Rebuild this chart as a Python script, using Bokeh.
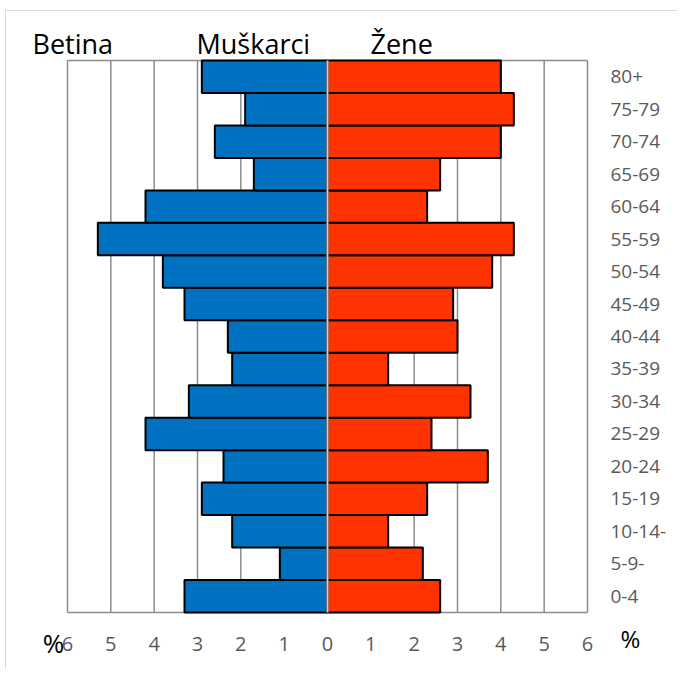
from bokeh.plotting import figure
from bokeh.models import Range1d, FixedTicker, LinearAxis, Label, CustomJSTickFormatter
from bokeh.embed import file_html
from bokeh.resources import INLINE

# ---- data ----
ages = ["0-4", "5-9-", "10-14-", "15-19", "20-24", "25-29", "30-34", "35-39", "40-44",
        "45-49", "50-54", "55-59", "60-64", "65-69", "70-74", "75-79", "80+"]
male = [3.3, 1.1, 2.2, 2.9, 2.4, 4.2, 3.2, 2.2, 2.3, 3.3, 3.8, 5.3, 4.2, 1.7, 2.6, 1.9, 2.9]
female = [2.6, 2.2, 1.4, 2.3, 3.7, 2.4, 3.3, 1.4, 3.0, 2.9, 3.8, 4.3, 2.3, 2.6, 4.0, 4.3, 4.0]
x_ticks = [-6, -5, -4, -3, -2, -1, 0, 1, 2, 3, 4, 5, 6]
titles = ["Betina", "Muškarci", "Žene"]
unit_label = "%"

n = len(ages)
idx = list(range(n))
neg_male = [-m for m in male]
zeros = [0] * n

# ---- layout (pixels inside the figure) ----
W, H = 672, 659
FRAME_L, FRAME_R = 61, 581      # where -6 and +6 fall
FRAME_T, FRAME_B = 49, 601      # where the top and bottom of the bars fall
ppx = (FRAME_R - FRAME_L) / 12.0
ppy = (FRAME_B - FRAME_T) / float(n)
x0_px = (FRAME_L + FRAME_R) / 2.0
x_lo = -x0_px / ppx
x_hi = (W - x0_px) / ppx
y_hi = n - 0.5 + FRAME_T / ppy
y_lo = -0.5 - (H - FRAME_B) / ppy

def dx(px):  # figure pixel -> data x
    return (px - x0_px) / ppx

def dy(px):  # figure pixel -> data y
    return n - 0.5 - (px - FRAME_T) / ppy

FONT = "Open Sans"
GRID = "#8c8c8c"
LABEL = "#595959"

p = figure(width=W, height=H, output_backend="svg", toolbar_location=None,
           x_range=Range1d(x_lo, x_hi), y_range=Range1d(y_lo, y_hi),
           x_axis_location=None, y_axis_location=None,
           min_border_left=0, min_border_right=0, min_border_top=0, min_border_bottom=0)
p.styles = {"border-left": "1px solid #d9d9d9", "border-top": "1px solid #d9d9d9",
            "margin-left": "5px", "margin-top": "10px"}
p.outline_line_color = None
p.background_fill_color = "white"
p.border_fill_color = "white"
p.grid.visible = False

# plot-area box and vertical grid lines (bounded to the bar area)
p.segment(x0=x_ticks, y0=[-0.5] * len(x_ticks), x1=x_ticks, y1=[n - 0.5] * len(x_ticks),
          line_color=GRID, line_width=1.5)
p.segment(x0=[-6, -6], y0=[-0.5, n - 0.5], x1=[6, 6], y1=[-0.5, n - 0.5],
          line_color=GRID, line_width=1.5)

# bars
p.hbar(y=idx, left=neg_male, right=zeros, height=1.0,
       fill_color="#0070C0", line_color="black", line_width=2)
p.hbar(y=idx, left=zeros, right=female, height=1.0,
       fill_color="#FF3300", line_color="black", line_width=2)

# centre line
p.segment(x0=[0], y0=[-0.5], x1=[0], y1=[n - 0.5], line_color="#d0d0d0", line_width=2)

def plain(axis, size, color, standoff):
    axis.axis_line_color = None
    axis.major_tick_line_color = None
    axis.minor_tick_line_color = None
    axis.major_tick_out = 0
    axis.major_tick_in = 0
    axis.major_label_standoff = standoff
    axis.major_label_text_font = FONT
    axis.major_label_text_font_size = size
    axis.major_label_text_color = color

xaxis = LinearAxis(ticker=FixedTicker(ticks=x_ticks), fixed_location=-0.5,
                   formatter=CustomJSTickFormatter(code="return Math.abs(tick).toString();"))
plain(xaxis, "20px", LABEL, 24)
p.add_layout(xaxis, "below")

yaxis = LinearAxis(ticker=FixedTicker(ticks=idx), fixed_location=6,
                   major_label_overrides={i: a for i, a in zip(idx, ages)})
plain(yaxis, "19px", LABEL, 23)
p.add_layout(yaxis, "right")

# column titles
for txt, px in zip(titles, [26, 190, 364]):
    p.add_layout(Label(x=dx(px), y=dy(32), text=txt, text_font=FONT, text_font_size="27px",
                       text_color="black", text_baseline="alphabetic", text_align="left"))

# unit signs next to the x axis
p.add_layout(Label(x=dx(47), y=dy(631), text=unit_label, text_font=FONT, text_font_size="26px",
                   text_color="black", text_baseline="middle", text_align="center"))
p.add_layout(Label(x=dx(624), y=dy(627), text=unit_label, text_font=FONT, text_font_size="24px",
                   text_color="black", text_baseline="middle", text_align="center"))

open("out.html", "w").write(file_html(p, INLINE))
